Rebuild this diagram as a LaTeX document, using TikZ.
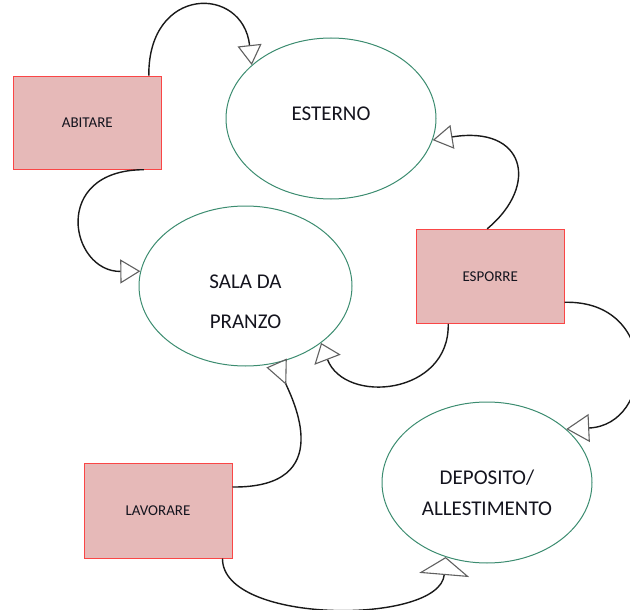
\documentclass[tikz,border=0pt]{standalone}
\usepackage{fontspec}
\setmainfont{Carlito}
\usetikzlibrary{arrows.meta,shapes.geometric}
\definecolor{boxfill}{RGB}{230,185,184}
\definecolor{boxline}{RGB}{250,70,70}
\definecolor{roomline}{RGB}{60,140,112}
\definecolor{ink}{RGB}{20,20,30}
\definecolor{linkcol}{RGB}{25,25,25}
\tikzset{
  room/.style={ellipse,draw=roomline,line width=1pt,minimum width=210pt,minimum height=161pt,inner sep=0pt},
  roomtext/.style={text=ink,align=center,font=\fontsize{21}{31}\selectfont},
  activity/.style={rectangle,draw=boxline,fill=boxfill,line width=1pt,minimum width=148pt,minimum height=94pt,text=ink,font=\fontsize{15}{18}\selectfont},
  link/.style={draw=linkcol,line width=1.4pt,-{Triangle[open,length=20pt,width=24pt,color=gray!75!black,line width=1.1pt]}},
  backlink/.style={draw=linkcol,line width=1.4pt,-{Triangle[open,reversed,length=24pt,width=22pt,color=gray!75!black,line width=1.1pt]}},
}
\begin{document}
\begin{tikzpicture}[x=1pt,y=-1pt]
\useasboundingbox (0,0) rectangle (630,610);
\node[room,label={[roomtext,yshift=4.5pt]center:ESTERNO}] at (331,118.5) (esterno) {};
\node[room,minimum width=213pt,minimum height=160pt,label={[roomtext,font=\fontsize{21}{40}\selectfont,yshift=-16pt]center:SALA DA\\PRANZO}] at (245.5,286) (sala) {};
\node[room,label={[roomtext,yshift=-10pt]center:DEPOSITO/\\ALLESTIMENTO}] at (487,482.5) (deposito) {};
\node[activity,minimum height=93pt] at (87.3,122.7) (abitare) {ABITARE};
\node[activity] at (490.2,276.3) (esporre) {ESPORRE};
\node[activity,minimum height=95pt] at (158,510.5) (lavorare) {LAVORARE};
\draw[link] ([xshift=-13pt]abitare.north east) .. controls (148,-15) and (243,-15) .. (esterno.146);
\draw[link] ([xshift=-18pt]abitare.south east) .. controls (50,170) and (70,272) .. (sala.172);
\draw[link] ([xshift=-3pt]esporre.north) .. controls (540,185) and (525,125) .. (esterno.-12);
\draw[link,-{Triangle[open,length=18pt,width=28pt,color=gray!75!black,line width=1.1pt]}] ([xshift=-42pt]esporre.south) .. controls (450,395) and (345,405) .. (sala.-37);
\draw[link,-{Triangle[open,length=23pt,width=28pt,color=gray!75!black,line width=1.1pt]}] ([yshift=-26pt]esporre.east) .. controls (660,300) and (655,425) .. (deposito.34);
\draw[backlink] ([yshift=23.5pt]lavorare.east) .. controls (338,488) and (292,398) .. (sala.-68);
\draw[link,-{Triangle[open,length=18pt,width=50pt,color=gray!75!black,line width=1.1pt]}] ([xshift=-10pt]lavorare.south east) .. controls (222,625) and (440,625) .. (deposito.241);
\end{tikzpicture}
\end{document}
